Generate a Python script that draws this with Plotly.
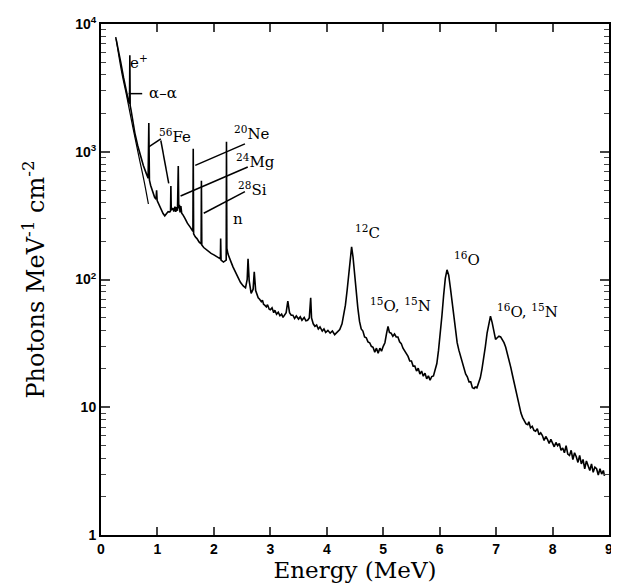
import plotly.graph_objects as go
import math

# ---- spectrum: energy (MeV) and photons MeV^-1 cm^-2 ----
energy_mev = [
    0.26, 0.30, 0.35, 0.40, 0.45, 0.49, 0.505, 0.511, 0.517, 0.53, 0.56, 0.60, 0.65, 0.70, 0.75, 0.80,
    0.835, 0.847, 0.858, 0.88, 0.92, 0.95, 0.975, 0.985, 0.995, 1.03, 1.07, 1.10, 1.13, 1.16, 1.19, 1.22,
    1.232, 1.238, 1.245, 1.27, 1.29, 1.31, 1.325, 1.34, 1.355, 1.369, 1.378, 1.39, 1.40, 1.415, 1.43, 1.45,
    1.49, 1.53, 1.58, 1.615, 1.628, 1.634, 1.641, 1.67, 1.70, 1.74, 1.77, 1.774, 1.779, 1.786, 1.82, 1.86,
    1.90, 1.95, 2.00, 2.05, 2.09, 2.115, 2.12, 2.127, 2.17, 2.21, 2.218, 2.223, 2.23, 2.25, 2.28, 2.31,
    2.34, 2.38, 2.43, 2.47, 2.52, 2.56, 2.59, 2.605, 2.625, 2.66, 2.695, 2.715, 2.74, 2.785, 2.81, 2.84,
    2.86, 2.88, 2.90, 2.93, 2.95, 2.98, 3.00, 3.03, 3.06, 3.08, 3.11, 3.14, 3.17, 3.20, 3.225, 3.25,
    3.28, 3.31, 3.34, 3.37, 3.40, 3.43, 3.46, 3.50, 3.53, 3.56, 3.60, 3.63, 3.66, 3.69, 3.715, 3.73,
    3.76, 3.79, 3.82, 3.85, 3.88, 3.92, 3.95, 3.98, 4.02, 4.06, 4.10, 4.14, 4.19, 4.23, 4.27, 4.30,
    4.33, 4.36, 4.39, 4.415, 4.44, 4.465, 4.49, 4.52, 4.55, 4.58, 4.61, 4.64, 4.67, 4.70, 4.73, 4.76,
    4.79, 4.82, 4.85, 4.88, 4.91, 4.94, 4.97, 5.00, 5.03, 5.06, 5.085, 5.11, 5.14, 5.17, 5.20, 5.23,
    5.26, 5.29, 5.32, 5.35, 5.38, 5.41, 5.44, 5.47, 5.50, 5.53, 5.56, 5.59, 5.62, 5.65, 5.68, 5.71,
    5.74, 5.77, 5.80, 5.83, 5.86, 5.89, 5.92, 5.95, 5.98, 6.01, 6.04, 6.07, 6.10, 6.13, 6.16, 6.19,
    6.22, 6.25, 6.28, 6.31, 6.34, 6.37, 6.40, 6.43, 6.46, 6.49, 6.52, 6.55, 6.58, 6.61, 6.63, 6.66,
    6.69, 6.72, 6.75, 6.78, 6.81, 6.84, 6.87, 6.90, 6.93, 6.96, 6.99, 7.02, 7.05, 7.08, 7.11, 7.14,
    7.17, 7.20, 7.23, 7.26, 7.29, 7.32, 7.35, 7.38, 7.41, 7.44, 7.47, 7.50, 7.53, 7.56, 7.58, 7.61,
    7.64, 7.67, 7.70, 7.73, 7.76, 7.79, 7.82, 7.85, 7.88, 7.91, 7.94, 7.97, 8.00, 8.03, 8.06, 8.09,
    8.12, 8.15, 8.18, 8.21, 8.24, 8.27, 8.30, 8.33, 8.36, 8.39, 8.42, 8.45, 8.48, 8.51, 8.54, 8.57,
    8.60, 8.63, 8.66, 8.69, 8.72, 8.75, 8.78, 8.81, 8.84, 8.87, 8.90, 8.92,
]
photons = [
    7900, 6600, 5000, 3800, 2900, 2450, 2380, 5700, 2300, 2150, 1750, 1400, 1120, 920, 780, 680,
    620, 1680, 600, 545, 480, 440, 425, 500, 415, 380, 350, 328, 315, 330, 340, 338,
    345, 540, 350, 362, 340, 372, 338, 368, 345, 775, 360, 385, 335, 375, 330, 322,
    300, 276, 257, 242, 238, 1055, 228, 216, 209, 196, 190, 190, 593, 186, 178, 172,
    166, 160, 156, 152, 148, 145, 209, 142, 137, 140, 142, 1197, 175, 158, 148, 135,
    125, 115, 103, 95, 89, 86, 100, 145, 98, 78, 84, 115, 82, 72, 70, 67,
    69, 64, 63, 61, 63.5, 58.5, 58, 60, 55, 57.5, 53.5, 55.5, 52, 53.5, 50.5, 52.5,
    55, 67.6, 55, 52.5, 52.5, 49.5, 51.8, 49, 51, 48, 50.5, 47.5, 48, 50, 72, 50,
    45, 43, 44, 41, 42.5, 39.5, 41, 38.5, 40, 38, 39.5, 37, 38.8, 40.5, 45, 52,
    63, 82, 115, 150, 180, 150, 110, 82, 60, 47, 41, 39.5, 35.5, 35, 32.5, 32,
    30, 29.5, 27, 29, 26.5, 29, 27.5, 30, 32, 38, 43, 38.5, 38, 36, 37.5, 35.5,
    35.5, 32.5, 31.5, 29, 27.5, 26, 25, 23, 23, 21, 21, 19.2, 20.2, 18.2, 19.2, 17.5,
    18.5, 16.7, 17.6, 16.3, 17.4, 17.6, 19.4, 22, 28, 37, 52, 75, 102, 119, 108, 86,
    68, 52, 40, 32, 28, 25, 22.5, 20.5, 18.2, 17.3, 15.8, 15.8, 14.2, 14.0, 14.4, 14.2,
    15.5, 17, 20, 24, 30, 38, 46, 51.6, 46, 38, 34, 35, 36, 35.5, 34, 32,
    29.5, 26.5, 23.5, 20.5, 17.8, 15.5, 13.5, 11.5, 10, 9.0, 8.3, 7.8, 7.4, 7.3, 7.7, 6.9,
    7.1, 6.6, 6.5, 6.8, 6.1, 6.3, 6.0, 5.5, 5.9, 5.6, 5.2, 5.6, 5.3, 4.9, 5.3, 5.0,
    5.2, 4.6, 4.8, 4.4, 5.0, 4.3, 4.2, 4.6, 3.9, 4.4, 4.1, 3.7, 4.2, 3.6, 3.9, 3.3,
    3.8, 3.5, 3.2, 3.6, 3.1, 3.4, 3.3, 2.95, 3.3, 3.0, 3.2, 2.9,
]

# smooth low-energy continuum curve drawn beside the data
continuum_energy = [0.27, 0.32, 0.38, 0.45, 0.52, 0.60, 0.68, 0.76, 0.84]
continuum_photons = [7600, 5500, 3900, 2800, 1950, 1300, 880, 600, 390]

x_ticks = [0, 1, 2, 3, 4, 5, 6, 7, 8, 9]
y_ticks = [1, 10, 100, 1000, 10000]
y_ticktext = ["1", "10", "10<sup>2</sup>", "10<sup>3</sup>", "10<sup>4</sup>"]
y_minor = [m * d for d in (1, 10, 100, 1000) for m in range(2, 10)]

# line labels: (text, energy, photons at label centre)
labels = [
    ("e<sup>+</sup>", 0.68, 5070),
    ("\u03b1\u2013\u03b1", 1.09, 2900),
    ("<sup>56</sup>Fe", 1.31, 1340),
    ("<sup>20</sup>Ne", 2.68, 1400),
    ("<sup>24</sup>Mg", 2.74, 840),
    ("<sup>28</sup>Si", 2.68, 510),
    ("n", 2.43, 297),
    ("<sup>12</sup>C", 4.72, 236),
    ("<sup>15</sup>O, <sup>15</sup>N", 5.30, 63),
    ("<sup>16</sup>O", 6.48, 146),
    ("<sup>16</sup>O, <sup>15</sup>N", 7.55, 57),
]
# leader lines: (E0, photons0, E1, photons1)
leaders = [
    (0.49, 2850, 0.73, 2850),
    (1.06, 1262, 0.84, 1087),
    (1.06, 1225, 1.20, 565),
    (2.55, 1153, 1.67, 783),
    (2.60, 760, 1.41, 450),
    (2.55, 488, 1.82, 330),
]

fig = go.Figure()
fig.add_trace(go.Scatter(x=energy_mev, y=photons, mode="lines",
                         line=dict(color="black", width=1.6), showlegend=False))
fig.add_trace(go.Scatter(x=continuum_energy, y=continuum_photons, mode="lines",
                         line=dict(color="black", width=1.2, shape="spline"), showlegend=False))
for e0, p0, e1, p1 in leaders:
    fig.add_trace(go.Scatter(x=[e0, e1], y=[p0, p1], mode="lines",
                             line=dict(color="black", width=1.5), showlegend=False))

for text, e, p in labels:
    fig.add_annotation(x=e, y=math.log10(p), text=text, showarrow=False,
                       font=dict(family="DejaVu Serif", size=15, color="black"))

tickfont = dict(family="Liberation Sans", size=14, color="black", weight="bold")
fig.update_xaxes(range=[0, 9], tickvals=x_ticks, ticks="inside", ticklen=8, tickwidth=1.6,
                 showline=True, linewidth=2, linecolor="black", mirror="ticks",
                 showgrid=False, zeroline=False, tickfont=tickfont,
                 title=dict(text="Energy (MeV)", standoff=4,
                            font=dict(family="DejaVu Serif", size=23, color="black")))
fig.update_yaxes(type="log", range=[0, 4], tickvals=y_ticks, ticktext=y_ticktext,
                 ticks="inside", ticklen=9, tickwidth=1.6,
                 minor=dict(tickvals=y_minor, ticks="inside", ticklen=5, tickwidth=1.4, showgrid=False),
                 showline=True, linewidth=2, linecolor="black", mirror="ticks",
                 showgrid=False, zeroline=False, tickfont=tickfont,
                 title=dict(text="Photons MeV<sup>-1</sup> cm<sup>-2</sup>", standoff=24,
                            font=dict(family="DejaVu Serif", size=24, color="black")))
# the page body has an 8 px margin, so the figure is sized to fit the 619x583 window
fig.update_layout(width=611, height=575, margin=dict(l=93, r=6, t=11, b=48),
                  paper_bgcolor="white", plot_bgcolor="white")
fig.write_html("out.html")
